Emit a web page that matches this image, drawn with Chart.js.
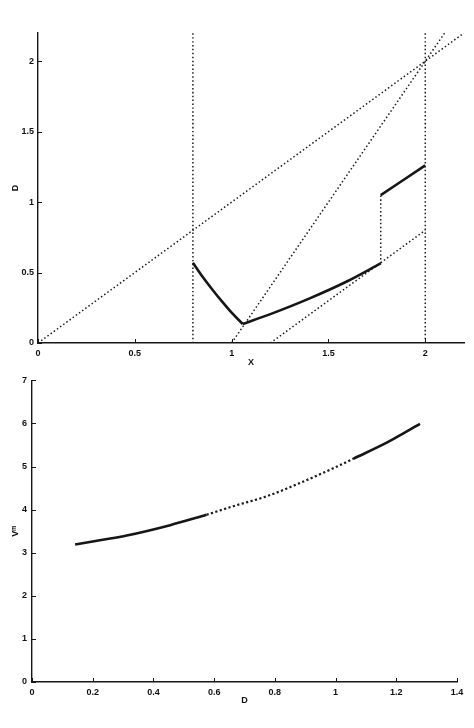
<!DOCTYPE html>
<html>
<head>
<meta charset="utf-8">
<script src="https://cdn.jsdelivr.net/npm/chart.js@4/dist/chart.umd.min.js"></script>
<style>
  body { margin: 0; background: #fff; }
  .wrap { position: relative; width: 474px; height: 728px; }
  canvas { position: absolute; left: 0; }
  #top_chart { top: 0; }
  #bottom_chart { top: 370px; }
</style>
</head>
<body>
<div class="wrap">
  <canvas id="top_chart" width="474" height="370"></canvas>
  <canvas id="bottom_chart" width="474" height="358"></canvas>
</div>
<script>
// ---- top panel: D against X ----
var topXTicks = [0, 0.5, 1, 1.5, 2];
var topYTicks = [0, 0.5, 1, 1.5, 2];

// dotted guide lines
var diagX = [0, 2.2],    diagY = [0, 2.2];
var steepX = [1, 2.1],   steepY = [0, 2.2];
var lowX = [1.2, 2],     lowY = [0, 0.8];
var vLeftX = [0.8, 0.8], vLeftY = [0, 2.2];
var vRightX = [2, 2],    vRightY = [0, 2.2];
var jumpX = [1.77, 1.77], jumpY = [0.565, 1.05];

// solid branches
var branchAX = [0.8, 0.85, 0.9, 0.95, 1.0, 1.057];
var branchAY = [0.57, 0.47, 0.38, 0.295, 0.215, 0.135];
var branchBX = [1.057, 1.2, 1.4, 1.6, 1.77];
var branchBY = [0.135, 0.205, 0.315, 0.44, 0.565];
var branchCX = [1.77, 2];
var branchCY = [1.05, 1.26];

// ---- bottom panel: V^m against D ----
var botXTicks = [0, 0.2, 0.4, 0.6, 0.8, 1, 1.2, 1.4];
var botYTicks = [0, 1, 2, 3, 4, 5, 6, 7];

var vSolid1X = [0.142, 0.2, 0.312, 0.455, 0.575];
var vSolid1Y = [3.19, 3.26, 3.40, 3.64, 3.88];
var vDotX = [0.575, 0.663, 0.773, 0.883, 0.992, 1.058];
var vDotY = [3.88, 4.08, 4.31, 4.62, 4.96, 5.18];
var vSolid2X = [1.058, 1.17, 1.278];
var vSolid2Y = [5.18, 5.56, 5.99];

function pts(xs, ys){
    return xs.map((x, i) => ({x: x, y: ys[i]}));
}

var INK = '#161616';
var FONT = "'Liberation Sans', Arial, sans-serif";

function solid(xs, ys){
    return { data: pts(xs, ys), borderColor: INK, borderWidth: 2.6, pointRadius: 0, cubicInterpolationMode: 'monotone' };
}
function dotted(xs, ys, w){
    w = w || 1.5;
    return { data: pts(xs, ys), borderColor: '#1c1c1c', borderWidth: w, borderDash: [w, 2.4], pointRadius: 0, cubicInterpolationMode: 'monotone' };
}

// inward tick marks on the two drawn axes
var inwardTicks = {
    id: 'inwardTicks',
    afterDraw(chart){
        const ctx = chart.ctx, area = chart.chartArea;
        ctx.save();
        ctx.strokeStyle = INK;
        ctx.lineWidth = 1;
        const xs = chart.scales.x, ys = chart.scales.y;
        xs.ticks.forEach((t, i) => {
            const px = Math.round(xs.getPixelForTick(i)) + 0.5;
            ctx.beginPath(); ctx.moveTo(px, area.bottom); ctx.lineTo(px, area.bottom - 4); ctx.stroke();
        });
        ys.ticks.forEach((t, i) => {
            const py = Math.round(ys.getPixelForTick(i)) + 0.5;
            ctx.beginPath(); ctx.moveTo(area.left, py); ctx.lineTo(area.left + 4, py); ctx.stroke();
        });
        ctx.restore();
    }
};

function axis(opts){
    return {
        type: 'linear',
        min: opts.min, max: opts.max,
        afterBuildTicks: s => { s.ticks = opts.ticks.map(v => ({value: v})); },
        afterFit: s => { if (opts.width) s.width = opts.width; if (opts.height) s.height = opts.height; },
        grid: { display: false, drawTicks: false },
        border: { display: true, color: INK, width: 1.4 },
        ticks: { color: '#111', padding: opts.pad, font: { family: FONT, size: 9, weight: 'bold' }, maxRotation: 0, callback: v => String(v) },
        title: { display: true, text: opts.title, color: '#111', font: { family: FONT, size: 9, weight: 'bold' }, padding: opts.titlePad }
    };
}

function makeChart(id, datasets, scales, padding){
    return new Chart(id, {
        type: 'line',
        data: { datasets: datasets },
        options: {
            responsive: false,
            animation: false,
            devicePixelRatio: 1,
            layout: { padding: padding },
            plugins: { legend: { display: false }, tooltip: { enabled: false } },
            scales: scales
        },
        plugins: [inwardTicks]
    });
}

makeChart('top_chart', [
    dotted(diagX, diagY),
    dotted(steepX, steepY),
    dotted(lowX, lowY),
    dotted(vLeftX, vLeftY),
    dotted(vRightX, vRightY),
    dotted(jumpX, jumpY),
    solid(branchAX, branchAY),
    solid(branchBX, branchBY),
    solid(branchCX, branchCY)
], {
    x: axis({ min: 0, max: 2.2, ticks: topXTicks, height: 27, pad: 5, title: 'X', titlePad: { top: 0, bottom: 2 } }),
    y: axis({ min: 0, max: 2.2, ticks: topYTicks, width: 38, pad: 4, title: 'D', titlePad: { top: 10, bottom: 0 } })
}, { top: 33, right: 10, left: 0, bottom: 0 });

makeChart('bottom_chart', [
    solid(vSolid1X, vSolid1Y),
    dotted(vDotX, vDotY, 2.2),
    solid(vSolid2X, vSolid2Y)
], {
    x: axis({ min: 0, max: 1.4, ticks: botXTicks, height: 25, pad: 5, title: 'D', titlePad: { top: 0, bottom: 1 } }),
    y: axis({ min: 0, max: 7, ticks: botYTicks, width: 32, pad: 5, title: 'V\u1D50', titlePad: { top: 10, bottom: 0 } })
}, { top: 6, right: 17, left: 0, bottom: 21 });
</script>
</body>
</html>
